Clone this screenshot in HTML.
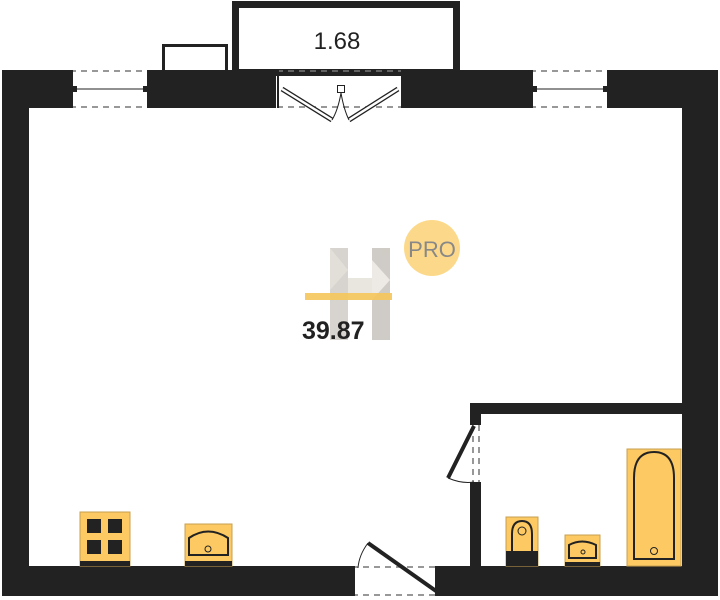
<!DOCTYPE html>
<html><head><meta charset="utf-8"><style>html,body{margin:0;padding:0;background:#fff}svg{display:block}</style></head>
<body>
<svg width="720" height="600" viewBox="0 0 720 600" xmlns="http://www.w3.org/2000/svg">
<rect width="720" height="600" fill="#fff"/>
<!-- balcony -->
<rect x="235.5" y="4.5" width="221" height="68" fill="#fff" stroke="#222" stroke-width="7"/>
<text x="337" y="49" font-family="Liberation Sans, sans-serif" font-size="24" fill="#222" text-anchor="middle">1.68</text>
<rect x="163.5" y="45.5" width="63" height="26" fill="#fff" stroke="#222" stroke-width="3"/>
<g fill="#222">
<!-- top wall segments -->
<rect x="2" y="70" width="68" height="38"/>
<rect x="150" y="70" width="126" height="38"/>
<rect x="403" y="70" width="127" height="38"/>
<rect x="610" y="70" width="108" height="38"/>
<!-- left/right walls -->
<rect x="2" y="70" width="27" height="526"/>
<rect x="682" y="70" width="36" height="526"/>
<!-- bottom wall -->
<rect x="2" y="566" width="350" height="30"/>
<rect x="438" y="566" width="280" height="30"/>
<!-- bathroom walls -->
<rect x="470" y="403" width="212" height="11"/>
<rect x="470" y="403" width="11" height="22"/>
<rect x="470" y="482" width="11" height="84"/>
</g>
<!-- windows -->
<g stroke="#777" stroke-width="1.5" stroke-dasharray="6,5" fill="none">
<line x1="70" y1="71" x2="150" y2="71"/><line x1="70" y1="107" x2="150" y2="107"/>
<line x1="530" y1="71" x2="610" y2="71"/><line x1="530" y1="107" x2="610" y2="107"/>
<line x1="277" y1="71" x2="403" y2="71"/><line x1="277" y1="107" x2="403" y2="107"/>
<line x1="352" y1="567" x2="438" y2="567"/><line x1="352" y1="595" x2="438" y2="595"/>
<line x1="473" y1="425" x2="473" y2="482"/><line x1="479" y1="425" x2="479" y2="482"/>
</g>
<g fill="#222">
<rect x="70" y="70" width="3" height="38"/><rect x="147" y="70" width="3" height="38"/>
<rect x="73" y="86" width="4" height="6"/><rect x="143" y="86" width="4" height="6"/>
<rect x="530" y="70" width="3" height="38"/><rect x="607" y="70" width="3" height="38"/>
<rect x="533" y="86" width="4" height="6"/><rect x="603" y="86" width="4" height="6"/>
<rect x="352" y="566" width="3" height="30"/><rect x="435" y="566" width="3" height="30"/>
</g>
<line x1="77" y1="89" x2="143" y2="89" stroke="#222" stroke-width="1"/>
<line x1="537" y1="89" x2="603" y2="89" stroke="#222" stroke-width="1"/>
<!-- balcony door -->
<rect x="277" y="70" width="2" height="38" fill="#222"/><rect x="401" y="70" width="2" height="38" fill="#222"/>
<g stroke="#222" stroke-width="5"><line x1="282" y1="89" x2="332" y2="120"/><line x1="398" y1="89" x2="349" y2="120"/></g>
<g stroke="#fff" stroke-width="2.5"><line x1="282" y1="89" x2="332" y2="120"/><line x1="398" y1="89" x2="349" y2="120"/></g>
<rect x="337.5" y="85.5" width="7" height="7" fill="#fff" stroke="#222"/>
<path d="M341 93 Q338 110 332 120 M341 93 Q344 110 349 120" fill="none" stroke="#222"/>
<!-- bathroom door -->
<line x1="474" y1="426" x2="448" y2="478" stroke="#222" stroke-width="4"/>
<path d="M448 478 Q462 484 474 482" fill="none" stroke="#222"/>
<!-- entry door -->
<line x1="436" y1="591" x2="368" y2="543" stroke="#222" stroke-width="4"/>
<path d="M368 543 Q359 555 358 568" fill="none" stroke="#222"/>
<!-- bathroom fixtures -->
<rect x="627" y="449" width="54" height="117" fill="#fcc962" stroke="#c9a050"/>
<path d="M634 559 V478 Q634 452 654 452 Q674 452 674 478 V559 Z" fill="none" stroke="#222" stroke-width="2"/>
<circle cx="654" cy="551" r="3.5" fill="none" stroke="#222"/>
<rect x="506" y="517" width="32" height="49" fill="#fcc962" stroke="#c9a050"/>
<rect x="506" y="551" width="32" height="15" fill="#222"/>
<path d="M512 551 V534 Q512 521 522 521 Q532 521 532 534 V551" fill="none" stroke="#222" stroke-width="2"/>
<circle cx="522" cy="531" r="4" fill="none" stroke="#222"/>
<rect x="565" y="535" width="35" height="31" fill="#fcc962" stroke="#c9a050"/>
<rect x="565" y="562" width="35" height="4" fill="#222"/>
<path d="M569 558 V545 Q582 538 596 545 V558 Z" fill="none" stroke="#222" stroke-width="2"/>
<circle cx="583" cy="552" r="2" fill="none" stroke="#222"/>
<!-- kitchen -->
<rect x="80" y="512" width="50" height="54" fill="#fcc962" stroke="#c9a050"/>
<rect x="80" y="561" width="50" height="5" fill="#222"/>
<g fill="#222"><rect x="87" y="519" width="14" height="14"/><rect x="108" y="519" width="14" height="14"/><rect x="87" y="540" width="14" height="14"/><rect x="108" y="540" width="14" height="14"/></g>
<rect x="185" y="524" width="47" height="42" fill="#fcc962" stroke="#c9a050"/>
<rect x="185" y="561" width="47" height="5" fill="#222"/>
<path d="M189 555 V538 Q208 525 228 538 V555 Z" fill="none" stroke="#222" stroke-width="2"/>
<circle cx="208" cy="549" r="3" fill="none" stroke="#222"/>
<!-- logo -->
<g opacity="0.55">
<rect x="330" y="248" width="18" height="92" fill="#b8b2a8"/>
<rect x="372" y="248" width="18" height="92" fill="#a8a298"/>
<polygon points="348,278 372,278 372,300 348,300" fill="#d8d2c8"/>
<polygon points="330,248 348,270 330,290" fill="#ccc5ba"/>
<polygon points="372,260 390,280 372,300" fill="#e0dad0"/>
</g>
<rect x="305" y="293" width="87" height="7" fill="#f5c55a" opacity="0.9"/>
<text x="302" y="339" font-family="Liberation Sans, sans-serif" font-weight="bold" font-size="25" fill="#222">39.87</text>
<circle cx="432" cy="248" r="28" fill="#fcd98a"/>
<text x="432" y="257" font-family="Liberation Sans, sans-serif" font-size="22" fill="#888" text-anchor="middle">PRO</text>
</svg>
</body></html>
